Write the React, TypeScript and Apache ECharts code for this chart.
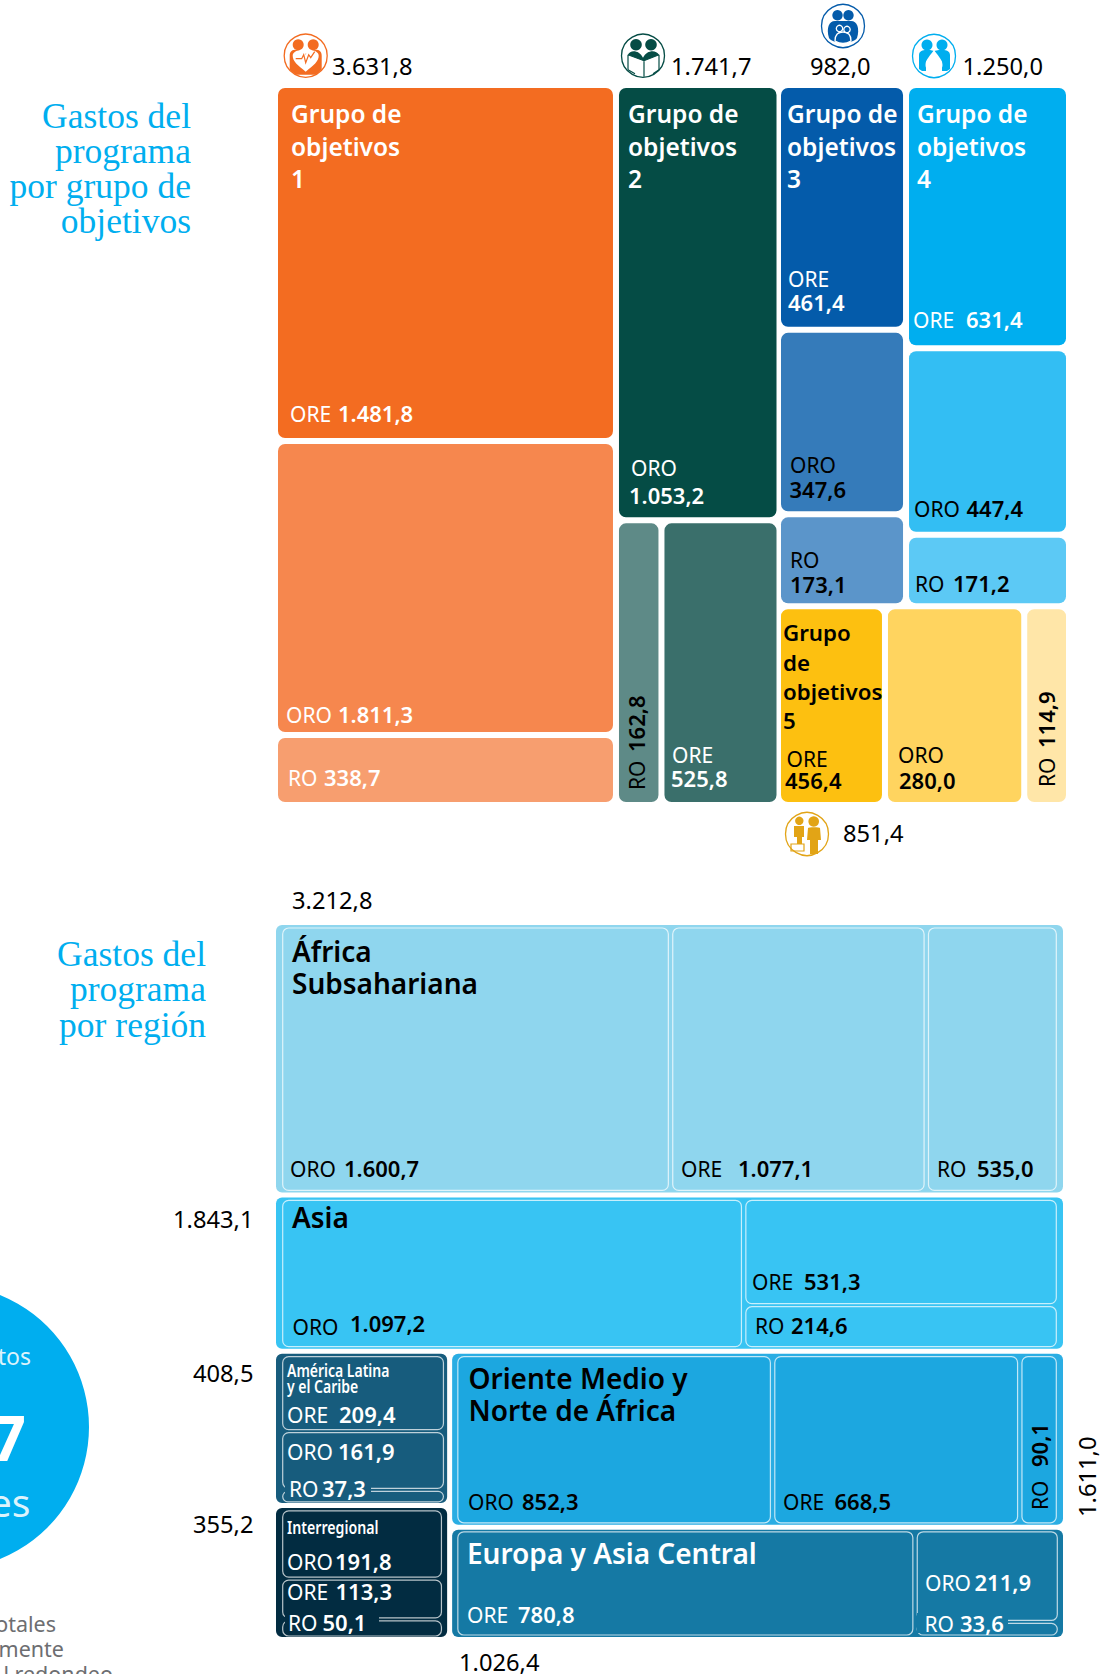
import React, { useEffect, useRef } from "react";
import * as echarts from "echarts";

// ---------- DATA ----------
const goalTotals = [3631.8, 1741.7, 982.0, 1250.0, 851.4];
const goal1Values = [1481.8, 1811.3, 338.7]; // ORE ORO RO as labelled
const goal1Sizes = [1796, 1483, 353]; // drawn heights (labels are crossed in the source)
const goal2Values = [525.8, 1053.2, 162.8];
const goal2LowerSizes = [191.5, 497];
const goal3Values = [461.4, 347.6, 173.1];
const goal4Values = [631.4, 447.4, 171.2];
const goal5Values = [456.4, 280.0, 114.9];
const goal5Sizes = [313, 407.5, 131];
const regionTotals = [3212.8, 1843.1, 408.5, 355.2, 1611.0, 1026.4];
const africaValues = [1600.7, 1077.1, 535.0];
const africaSizes = [1610.6, 1056, 546];
const asiaValues = [1097.2, 531.3, 214.6];
const lacValues = [209.4, 161.9, 37.3];
const interValues = [191.8, 113.3, 50.1];
const menaValues = [852.3, 668.5, 90.1];
const menaSizes = [847, 660.5, 103.5];
const ecaValues = [780.8, 211.9, 33.6];

// ---------- STYLE ----------
const goal1Colors = ["#F36C21", "#F6874E", "#F79E6F"];
const goal2Colors = ["#054C45", "#5E8A87", "#3A6F6B"];
const goal3Colors = ["#045BAA", "#357BBA", "#5B95CA"];
const goal4Colors = ["#00AEEF", "#33BEF3", "#5CC9F5"];
const goal5Colors = ["#FDC010", "#FFD45F", "#FFE6A8"];
const regionColors = ["#8FD6EE", "#38C4F3", "#175C7D", "#022C41", "#1CA7E0", "#1579A4"];
const regionOuterColors = ["#8FD6EE", "#38C4F3", "#175C7D", "#022C41", "#2AADE3", "#1579A4"];
const SANS = '"Noto Sans", sans-serif';
const SERIF = '"Liberation Serif", serif';
const BLUE = "#00AEEF";

const TOP = { left: 275, top: 85, width: 794, height: 720 };
const BOT = { left: 273.5, top: 922.5, width: 792, height: 717 };

// ---------- ICON SHAPES ----------
const iconPaths: Record<string, string> = {
  i1body: "M-16 0 C-16 -5 -13 -6 -10 -6 C-7 -6 -4 -4 -2 -2 L2 -2 C4 -4 7 -6 10 -6 C13 -6 16 -5 16 0 L16 14 L10 19 L-10 19 L-16 14 Z",
  i1heart: "M0 16 C-8 9 -13 6 -13 0 C-13 -4 -8 -6 -4 -5 C-2 -4.5 -1 -3 0 -1 C1 -3 2 -4.5 4 -5 C8 -6 13 -4 13 0 C13 6 8 9 0 16 Z",
  i1pulse: "M-10 3 L-4 3 L-2 -1 L0 7 L3 -1 L5 2 L9 -4",
  i2shoulders: "M-15 -1 C-13 -6 -4 -6 0 2 C4 -6 13 -6 16 -1 L1 5 Z",
  i2book: "M-15 -1 L1 5 L16 -1 M-15 -1 L-15 14 M16 -1 L16 14 M1 5 L1 21 M-15 14 L-8 18 M16 14 L10 18",
  i3body: "M-14 12 C-17 2 -14 -5 -8 -5 L8 -5 C14 -5 17 2 14 12 C11 18 -11 18 -14 12 Z",
  i3kids: "M-8 15 C-8 8 -4 6 0 6 C4 6 8 8 8 15 C3 18 -3 18 -8 15 Z",
  i4left: "M-15 13 L-15 -1 C-15 -5 -11 -6 -8 -6 L-4 -6 L0 -5 L-3 0 L-8 6 L-8 15 L-12 15 Z",
  i4right: "M16 13 L16 -1 C16 -5 12 -6 9 -6 L5 -6 L0 -5 L3 0 L8 6 L8 15 L13 15 Z",
  i4drop: "M0 -6 C3 -1 8.5 3 8.5 9 C8.5 14 4 16.5 0 16.5 C-4 16.5 -8.5 14 -8.5 9 C-8.5 3 -3 -1 0 -6 Z",
  i5small: "M-13 -8 L-3 -8 L-3 3 L-5 3 L-5 10 L-10 10 L-10 3 L-13 3 Z",
  i5big: "M1 -6 C1 -7 13 -7 13 -6 L14 6 L11 6 L11 20 L3 20 L3 6 L0 6 Z",
  i5step: "M-16 10 L-3 10 L-3 17 L-16 17 Z",
};
Object.keys(iconPaths).forEach((k) =>
  echarts.graphic.registerShape(k, echarts.graphic.extendPath(iconPaths[k], {}) as any)
);

// ---------- TREEMAP LAYOUT (fractions of each grid, from values) ----------
type R = [number, number, number, number];
const sum = (a: number[]) => a.reduce((s, v) => s + v, 0);
function split(r: R, weights: number[], dir: "h" | "v"): R[] {
  const total = sum(weights);
  let acc = 0;
  return weights.map((w) => {
    const a = acc / total;
    acc += w;
    const b = acc / total;
    return dir === "h"
      ? ([r[0] + (r[2] - r[0]) * a, r[1], r[0] + (r[2] - r[0]) * b, r[3]] as R)
      : ([r[0], r[1] + (r[3] - r[1]) * a, r[2], r[1] + (r[3] - r[1]) * b] as R);
  });
}
const full: R = [0, 0, 1, 1];

function topLayout() {
  const cols = split(full, [goalTotals[0], goalTotals[1], goalTotals[2] + goalTotals[3] + goalTotals[4]], "h");
  cols[2][0] -= 1.5 / TOP.width; // narrower gutter before the last column
  const g1 = split(cols[0], goal1Sizes, "v");
  const g2 = split(cols[1], [goal2Values[1], goal2Values[0] + goal2Values[2]], "v");
  const g2low = split(g2[1], goal2LowerSizes, "h");
  const third = split(cols[2], [goalTotals[2] + goalTotals[3], goalTotals[4]], "v");
  const pair = split(third[0], [goalTotals[2], goalTotals[3]], "h");
  const g3 = split(pair[0], goal3Values, "v");
  const g4 = split(pair[1], goal4Values, "v");
  const g5 = split(third[1], goal5Sizes, "h");
  const rects: { r: R; c: string }[] = [];
  g1.forEach((r, i) => rects.push({ r, c: goal1Colors[i] }));
  rects.push({ r: g2[0], c: goal2Colors[0] });
  rects.push({ r: g2low[0], c: goal2Colors[1] });
  rects.push({ r: g2low[1], c: goal2Colors[2] });
  g3.forEach((r, i) => rects.push({ r, c: goal3Colors[i] }));
  g4.forEach((r, i) => rects.push({ r, c: goal4Colors[i] }));
  g5.forEach((r, i) => rects.push({ r, c: goal5Colors[i] }));
  return rects;
}

function innerArea(r: R, l: number, t: number, rr: number, b: number): R {
  return [r[0] + l / BOT.width, r[1] + t / BOT.height, r[2] - rr / BOT.width, r[3] - b / BOT.height];
}
function bottomLayout() {
  const leftSum = regionTotals[2] + regionTotals[3];
  const rightSum = regionTotals[4] + regionTotals[5];
  const rows = split(full, [regionTotals[0], regionTotals[1], leftSum + rightSum], "v");
  const rest = split(rows[2], [leftSum, rightSum], "h");
  rest[0][2] -= 1.7 / BOT.width;
  rest[1][0] -= 1.7 / BOT.width;
  const left = split(rest[0], [regionTotals[2], regionTotals[3]], "v");
  const right = split(rest[1], [regionTotals[4], regionTotals[5]], "v");
  const regions: R[] = [rows[0], rows[1], left[0], left[1], right[0], right[1]];
  const streams: { r: R; c: string }[] = [];
  const push = (arr: R[], c: string) => arr.forEach((r) => streams.push({ r, c }));

  const a = innerArea(regions[0], 7, 4, 7, 3);
  push(split(a, africaSizes, "h"), regionColors[0]);
  const b = split(innerArea(regions[1], 7, 4, 7, 3), [asiaValues[0], asiaValues[1] + asiaValues[2]], "h");
  push([b[0]], regionColors[1]);
  push(split(b[1], [asiaValues[1], asiaValues[2]], "v"), regionColors[1]);
  push(split(innerArea(regions[2], 7, 4, 4, 2), lacValues, "v"), regionColors[2]);
  push(split(innerArea(regions[3], 7, 4, 6, 2), interValues, "v"), regionColors[3]);
  push(split(innerArea(regions[4], 6, 4, 7, 3), menaSizes, "h"), regionColors[4]);
  const e = split(innerArea(regions[5], 6, 3, 6, 3), [ecaValues[0], ecaValues[1] + ecaValues[2]], "h");
  push([e[0]], regionColors[5]);
  push(split(e[1], [ecaValues[1], ecaValues[2]], "v"), regionColors[5]);
  return { regions, streams };
}

// ---------- TEXT HELPERS ----------
const fmt = (v: number) =>
  v
    .toFixed(1)
    .replace(".", ",")
    .replace(/\B(?=(\d{3})(?!\d))/g, ".");
const K: Record<string, number> = { sans: 0.388, serif: 0.3375 };

function txt(
  text: string,
  x: number,
  y: number,
  o: { size?: number; weight?: number | string; fill?: string; align?: string; rot?: boolean; fam?: string; sx?: number } = {}
) {
  const size = o.size ?? 21;
  const fam = o.fam ?? "sans";
  const k = K[fam] * size;
  return {
    type: "text",
    z: 20,
    silent: true,
    x: o.rot ? x - k : x,
    y: o.rot ? y : y - k,
    rotation: o.rot ? Math.PI / 2 : 0,
    scaleX: o.sx ?? 1,
    style: {
      text,
      x: 0,
      y: 0,
      fill: o.fill ?? "#000",
      font: `${o.weight ?? 400} ${size}px ${fam === "sans" ? SANS : SERIF}`,
      textAlign: o.align ?? "left",
      textVerticalAlign: "middle",
      verticalAlign: "middle",
    },
  };
}
const W = "#FFFFFF";
const D = "#000000";
const B = 600;
const TOTAL = 23.7;
// stream name + bold value on the same or on stacked baselines
function lab(name: string, nx: number, ny: number, v: number, vx: number, vy: number, fill: string) {
  return [txt(name, nx, ny, { fill, size: 21 }), txt(fmt(v), vx, vy, { fill, weight: B, size: 22 })];
}
function rotLab(name: string, x: number, ny: number, v: number, vy: number) {
  return [txt(name, x, ny, { rot: true, fill: D, size: 21 }), txt(fmt(v), x, vy, { rot: true, fill: D, weight: B, size: 22 })];
}
function goalTitle(n: number, x: number, fill: string) {
  return [
    txt("Grupo de", x, 123.5, { size: 24.5, weight: B, fill }),
    txt("objetivos", x, 156, { size: 24.5, weight: B, fill }),
    txt(String(n), x, 188.5, { size: 24.5, weight: B, fill }),
  ];
}

function shape(type: string, cx: number, cy: number, style: any) {
  return { type, x: cx, y: cy, z: 20, silent: true, style };
}
function circle(cx: number, cy: number, r: number, fill: string, stroke?: string) {
  return { type: "circle", z: 21, silent: true, shape: { cx, cy, r }, style: { fill, stroke, lineWidth: stroke ? 1.3 : 0 } };
}
function ring(cx: number, cy: number, c: string) {
  return { type: "circle", z: 19, silent: true, shape: { cx, cy, r: 21.5 }, style: { fill: "#fff", stroke: c, lineWidth: 1.3 } };
}
function icons() {
  const c1 = "#F36C21", c2 = "#054C45", c3 = "#045BAA", c4 = "#00AEEF", c5 = "#E2A416";
  const a = [305.7, 55.7], b = [643, 55.7], c = [843, 26], d = [934, 56], e = [807, 834];
  return [
    ring(a[0], a[1], c1),
    shape("i1body", a[0], a[1], { fill: c1 }),
    shape("i1heart", a[0], a[1], { fill: "#fff" }),
    shape("i1pulse", a[0], a[1], { fill: "none", stroke: c1, lineWidth: 1.2 }),
    circle(a[0] - 7.5, a[1] - 11, 5.5, c1),
    circle(a[0] + 7.5, a[1] - 11, 5.5, c1),

    ring(b[0], b[1], c2),
    shape("i2book", b[0], b[1], { fill: "none", stroke: c2, lineWidth: 1.2 }),
    shape("i2shoulders", b[0], b[1], { fill: c2 }),
    circle(b[0] - 7, b[1] - 11, 5.8, c2),
    circle(b[0] + 8, b[1] - 11, 5.8, c2),

    ring(c[0], c[1], c3),
    shape("i3body", c[0], c[1], { fill: c3 }),
    shape("i3kids", c[0], c[1], { fill: c3, stroke: "#fff", lineWidth: 1.3 }),
    circle(c[0] - 5.5, c[1] - 10.7, 5.2, c3),
    circle(c[0] + 5.5, c[1] - 10.7, 5.2, c3),
    circle(c[0] - 3.5, c[1] + 2.5, 3.2, c3, "#fff"),
    circle(c[0] + 4, c[1] + 3.5, 3.2, c3, "#fff"),

    ring(d[0], d[1], c4),
    shape("i4left", d[0], d[1], { fill: c4 }),
    shape("i4right", d[0], d[1], { fill: c4 }),
    shape("i4drop", d[0], d[1], { fill: "#fff" }),
    circle(d[0] - 7, d[1] - 11, 5.5, c4),
    circle(d[0] + 8, d[1] - 11, 5.5, c4),

    ring(e[0], e[1], c5),
    shape("i5step", e[0], e[1], { fill: "none", stroke: c5, lineWidth: 1.2 }),
    shape("i5small", e[0], e[1], { fill: c5 }),
    shape("i5big", e[0], e[1], { fill: c5 }),
    circle(e[0] - 7.7, e[1] - 13.2, 4.2, c5),
    circle(e[0] + 6.7, e[1] - 12.5, 5.3, c5),
  ];
}

function patch(x: number, y: number, w: number, h: number, fill: string) {
  return { type: "rect", z: 15, silent: true, shape: { x, y, width: w, height: h }, style: { fill } };
}

function buildGraphic() {
  const title = (lines: string[], right: number, ys: number[]) =>
    lines.map((l, i) => txt(l, right, ys[i], { size: 35.5, fam: "serif", fill: BLUE, align: "right" }));
  return [
    // left headings
    ...title(["Gastos del", "programa", "por grupo de", "objetivos"], 191, [128, 163, 198, 233]),
    ...title(["Gastos del", "programa", "por región"], 206, [966, 1001, 1037]),
    // circle clipped by page edge
    { type: "circle", z: 5, silent: true, shape: { cx: -53.4, cy: 1427, r: 142.4 }, style: { fill: BLUE } },
    txt("tos", 31, 1365, { size: 23, fill: "#DDF3FC", align: "right" }),
    txt("7", 26, 1461, { size: 62, weight: 700, fill: W, align: "right" }),
    txt("es", 30.5, 1517, { size: 39, fill: "#DDF3FC", align: "right" }),
    txt("otales", 56, 1632, { size: 21.5, fill: "#6D6E71", align: "right" }),
    txt("mente", 64, 1657, { size: 21.5, fill: "#6D6E71", align: "right" }),
    txt("l redondeo", 113, 1682, { size: 21.5, fill: "#6D6E71", align: "right" }),

    ...icons(),

    // totals of goal groups
    txt(fmt(goalTotals[0]), 332, 75, { size: TOTAL }),
    txt(fmt(goalTotals[1]), 671, 75, { size: TOTAL }),
    txt(fmt(goalTotals[2]), 810, 75, { size: TOTAL }),
    txt(fmt(goalTotals[3]), 962.5, 75, { size: TOTAL }),
    txt(fmt(goalTotals[4]), 843, 842, { size: TOTAL }),

    // goal labels
    ...goalTitle(1, 291, W),
    ...goalTitle(2, 628, W),
    ...goalTitle(3, 787, W),
    ...goalTitle(4, 917, W),
    txt("Grupo", 783, 641, { size: 22.3, weight: B }),
    txt("de", 783, 671, { size: 22.3, weight: B }),
    txt("objetivos", 783, 700, { size: 22.3, weight: B }),
    txt("5", 783, 729.5, { size: 22.3, weight: B }),

    ...lab("ORE", 290, 422, goal1Values[0], 338, 422, W),
    ...lab("ORO", 286, 723, goal1Values[1], 338, 723, W),
    ...lab("RO", 288, 786, goal1Values[2], 324, 786, W),
    ...lab("ORO", 631, 476, goal2Values[1], 629, 504, W),
    ...lab("ORE", 672, 763, goal2Values[0], 671, 787, W),
    ...rotLab("RO", 645, 790, goal2Values[2], 752),
    ...lab("ORE", 788, 287, goal3Values[0], 788, 311, W),
    ...lab("ORO", 790, 473, goal3Values[1], 789.5, 498, D),
    ...lab("RO", 790, 568, goal3Values[2], 790, 593, D),
    ...lab("ORE", 913, 328, goal4Values[0], 966, 328, W),
    ...lab("ORO", 914, 517, goal4Values[1], 966.5, 517, D),
    ...lab("RO", 915, 592, goal4Values[2], 953, 592, D),
    ...lab("ORE", 786.5, 767, goal5Values[0], 785, 789, D),
    ...lab("ORO", 898, 763, goal5Values[1], 899, 788.5, D),
    ...rotLab("RO", 1055, 787, goal5Values[2], 748),

    // region totals
    txt(fmt(regionTotals[0]), 292, 909, { size: TOTAL }),
    txt(fmt(regionTotals[1]), 253.5, 1228, { size: TOTAL, align: "right" }),
    txt(fmt(regionTotals[2]), 253.5, 1382, { size: TOTAL, align: "right" }),
    txt(fmt(regionTotals[3]), 253.5, 1533, { size: TOTAL, align: "right" }),
    txt(fmt(regionTotals[4]), 1096, 1517, { size: TOTAL, rot: true }),
    txt(fmt(regionTotals[5]), 459, 1671, { size: TOTAL }),

    // region titles
    txt("África", 292, 962, { size: 28, weight: B }),
    txt("Subsahariana", 292, 994, { size: 28, weight: B }),
    txt("Asia", 292, 1228, { size: 28, weight: B }),
    txt("Oriente Medio y", 468.5, 1388.5, { size: 28, weight: B }),
    txt("Norte de África", 468.5, 1421, { size: 28, weight: B }),
    txt("Europa y Asia Central", 467, 1564, { size: 28, weight: B, fill: W }),
    txt("América Latina", 287, 1377, { size: 17.5, weight: B, fill: W, sx: 0.8 }),
    txt("y el Caribe", 287, 1393.5, { size: 17.5, weight: B, fill: W, sx: 0.8 }),
    txt("Interregional", 287, 1534, { size: 17.5, weight: B, fill: W, sx: 0.81 }),

    // stream labels
    ...lab("ORO", 290, 1177, africaValues[0], 344, 1177, D),
    ...lab("ORE", 681, 1177, africaValues[1], 738, 1177, D),
    ...lab("RO", 937, 1177, africaValues[2], 977, 1177, D),
    ...lab("ORO", 292.5, 1335, asiaValues[0], 350, 1332, D),
    ...lab("ORE", 752, 1290, asiaValues[1], 804, 1290, D),
    ...lab("RO", 755, 1334, asiaValues[2], 791, 1334, D),
    ...lab("ORE", 287, 1423, lacValues[0], 339, 1423, W),
    ...lab("ORO", 287, 1460, lacValues[1], 338, 1460, W),
    patch(285, 1478, 86, 21, regionColors[2]),
    ...lab("RO", 289, 1497, lacValues[2], 322, 1497, W),
    ...lab("ORO", 287, 1570, interValues[0], 335, 1570, W),
    ...lab("ORE", 287, 1600, interValues[1], 335.5, 1600, W),
    patch(285, 1612, 94, 21, regionColors[3]),
    ...lab("RO", 288, 1631, interValues[2], 322.5, 1631, W),
    ...lab("ORO", 468, 1510, menaValues[0], 522, 1510, D),
    ...lab("ORE", 783, 1510, menaValues[1], 834.5, 1510, D),
    ...rotLab("RO", 1048, 1510, menaValues[2], 1467),
    ...lab("ORE", 467, 1623, ecaValues[0], 518, 1623, W),
    ...lab("ORO", 925, 1591, ecaValues[1], 974.5, 1591, W),
    patch(917, 1613, 91, 20, regionColors[5]),
    ...lab("RO", 924.5, 1632, ecaValues[2], 960, 1632, W),
  ];
}

function rectSeries(name: string, gi: number, items: { r: R; c: string }[], ix: number, iy: number, radius: number, stroke: any) {
  return {
    type: "custom",
    name,
    xAxisIndex: gi,
    yAxisIndex: gi,
    clip: false,
    silent: true,
    z: stroke ? 4 : 3,
    data: items.map((it) => ({ value: it.r, itemStyle: { color: it.c } })),
    renderItem: (params: any, api: any) => {
      const p0 = api.coord([api.value(0), api.value(1)]);
      const p1 = api.coord([api.value(2), api.value(3)]);
      return {
        type: "rect",
        shape: {
          x: p0[0] + ix,
          y: p0[1] + iy,
          width: p1[0] - p0[0] - 2 * ix,
          height: p1[1] - p0[1] - 2 * iy,
          r: radius,
        },
        style: { fill: items[params.dataIndex].c, stroke: stroke || undefined, lineWidth: stroke ? 1.2 : 0 },
      };
    },
  };
}

export default function App() {
  const ref = useRef<HTMLDivElement>(null);
  useEffect(() => {
    const chart = echarts.init(ref.current!, undefined, { renderer: "svg" });
    const { regions, streams } = bottomLayout();
    const axis = (gridIndex: number, inverse: boolean) => ({
      type: "value",
      gridIndex,
      min: 0,
      max: 1,
      show: false,
      inverse,
    });
    chart.setOption({
      animation: false,
      grid: [
        { ...TOP, containLabel: false },
        { ...BOT, containLabel: false },
      ],
      xAxis: [axis(0, false), axis(1, false)],
      yAxis: [axis(0, true), axis(1, true)],
      series: [
        rectSeries("Gastos por grupo de objetivos", 0, topLayout(), 3, 3, 7, null),
        rectSeries("Regiones", 1, regions.map((r, i) => ({ r, c: regionOuterColors[i] })), 2.5, 2.5, 6, null),
        rectSeries("Regiones por tipo", 1, streams, 2.2, 1.5, 6, "rgba(255,255,255,0.72)"),
      ],
      graphic: { elements: buildGraphic() },
    });
    return () => chart.dispose();
  }, []);
  return (
    <div
      ref={ref}
      style={{ position: "absolute", left: 0, top: 0, width: 1108, height: 1674, background: "#fff" }}
    />
  );
}
